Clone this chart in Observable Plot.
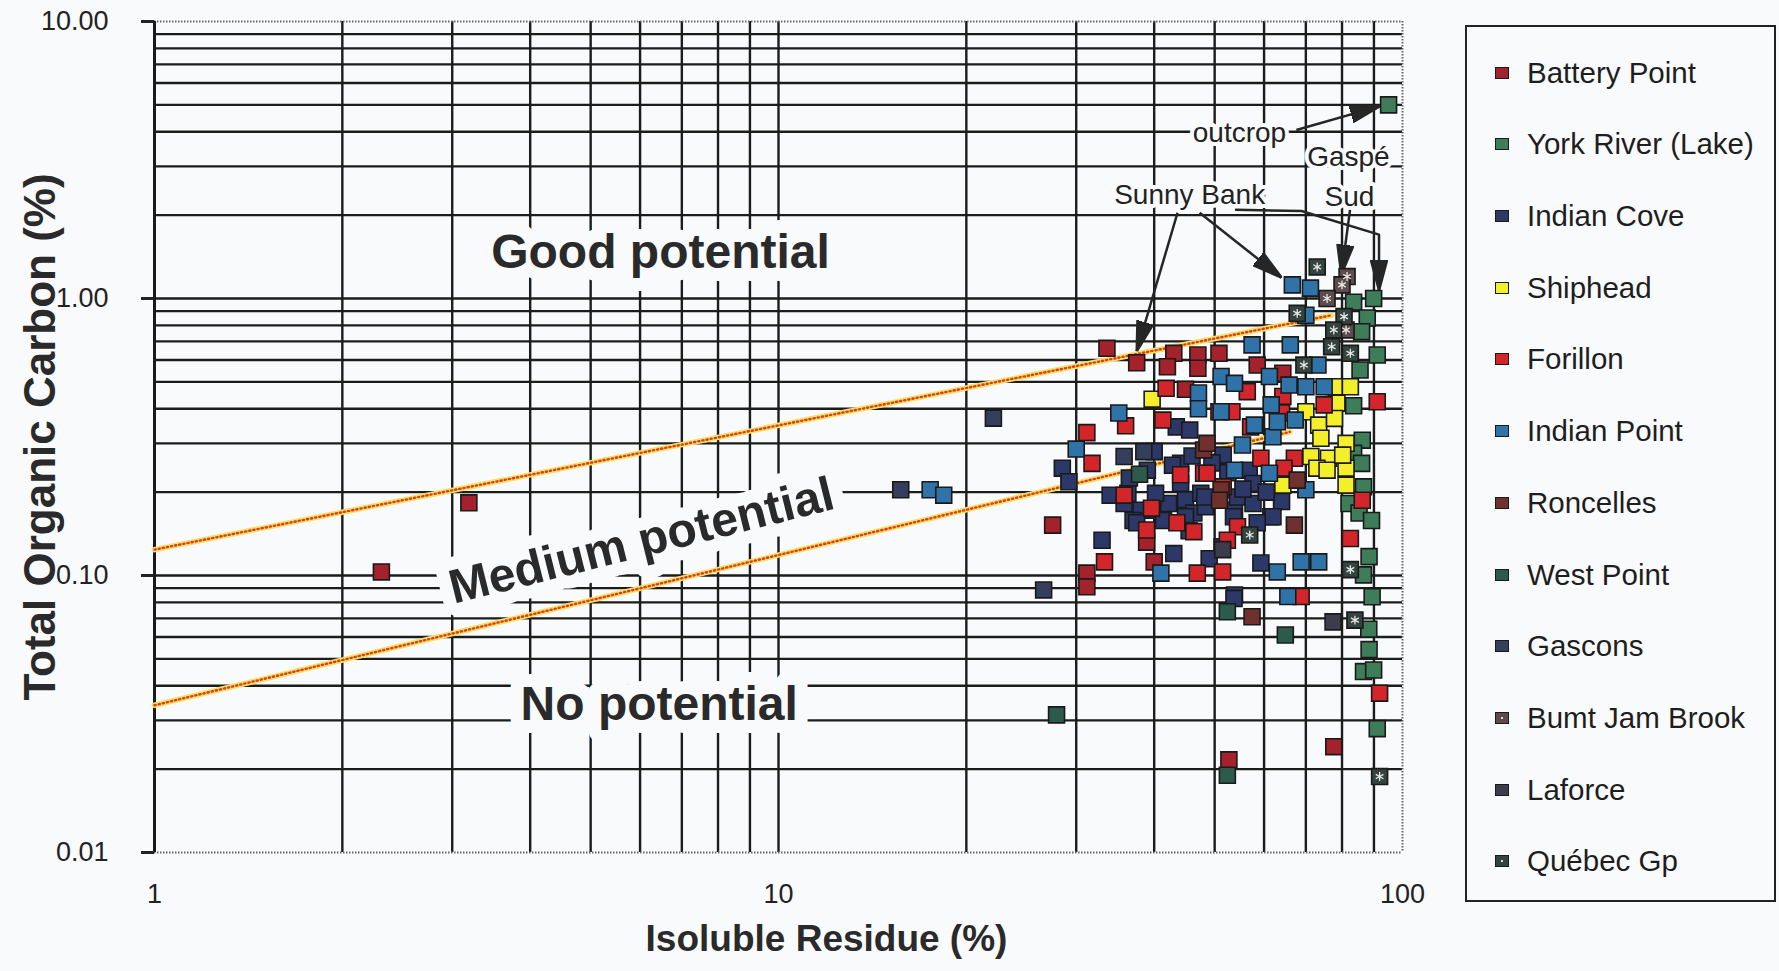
<!DOCTYPE html>
<html>
<head>
<meta charset="utf-8">
<script src="https://cdn.jsdelivr.net/npm/d3@7"></script>
<script src="https://cdn.jsdelivr.net/npm/@observablehq/plot@0.6"></script>
<style>
  html, body { margin: 0; padding: 0; background: #f9fafc; }
  #wrap { position: relative; width: 1779px; height: 971px; overflow: hidden; font-family: "Liberation Sans", Arial, sans-serif; }
  #chart { position: absolute; left: 0; top: 0; }
  #legend { position: absolute; left: 1465px; top: 25px; width: 307px; height: 873px; border: 2px solid #222; background: #f9fafc; }
  .li { position: absolute; left: 0; height: 34px; line-height: 34px; font-size: 29.5px; color: #1e1e1e; white-space: nowrap; }
  .sw { position: absolute; left: 28px; top: 11px; width: 12px; height: 10px; border: 1.5px solid #1a1a1a; }
  .lt { position: absolute; left: 60px; top: 0; }
</style>
</head>
<body>
<div id="wrap"><div id="chart"></div><div id="legend"></div></div>
<script>
// ---- series (Isoluble Residue %, Total Organic Carbon %) ----
const seriesNames = ["Battery Point","York River (Lake)","Indian Cove","Shiphead","Forillon","Indian Point","Roncelles","West Point","Gascons","Bumt Jam Brook","Laforce","Québec Gp"];
const seriesFill = ["#a3222b","#3d7d5a","#2b3868","#f3ef2b","#d3252a","#2f73a8","#70302e","#2c5b4c","#333f5c","#5d4b4d","#3c3c4c","#33443f"];

const batteryPoint = [[2.31,0.103],[3.19,0.183],[33.6,0.661],[37.5,0.586],[43.0,0.634],[42.0,0.567],[47.0,0.625],[47.0,0.56],[50.8,0.634],[27.5,0.152],[31.2,0.102],[31.2,0.091],[77.6,0.0241],[52.7,0.0216],[44.9,0.47],[58.5,0.575],[64.3,0.537],[38.9,0.132],[40.0,0.112]];
const yorkRiver = [[95.0,5.0],[83.5,0.97],[89.9,1.0],[87.8,0.85],[86.0,0.759],[91.1,0.625],[85.5,0.552],[83.5,0.41],[86.2,0.308],[83.5,0.276],[86.0,0.254],[86.6,0.209],[82.1,0.182],[85.2,0.168],[89.2,0.158],[88.4,0.117],[86.6,0.1005],[89.4,0.0838],[88.3,0.064],[88.4,0.054],[86.6,0.045],[89.9,0.0456],[91.1,0.028]];
const indianCove = [[28.5,0.244],[29.2,0.218],[40.0,0.28],[44.1,0.254],[34.0,0.195],[35.8,0.182],[38.1,0.172],[37.0,0.158],[40.4,0.172],[42.2,0.182],[41.4,0.158],[44.9,0.188],[46.3,0.168],[33.0,0.134],[51.6,0.272],[56.8,0.24],[53.8,0.172],[61.5,0.163],[48.3,0.177],[54.4,0.192],[64.0,0.185],[59.3,0.111],[53.8,0.085],[53.7,0.0827],[43.4,0.344],[45.6,0.335],[47.5,0.198],[36.3,0.198],[40.2,0.198],[44.1,0.215],[48.2,0.192],[44.9,0.163],[53.6,0.163],[57.6,0.182],[62.0,0.163],[37.5,0.155],[51.4,0.127],[57.6,0.215],[42.8,0.25],[46.0,0.27],[49.5,0.255],[52.5,0.235],[55.5,0.205],[58.5,0.155],[45.5,0.145],[43.0,0.12],[49.0,0.115],[39.0,0.24],[60.5,0.2],[36.5,0.225]];
const shiphead = [[39.7,0.433],[77.8,0.48],[82.5,0.48],[78.5,0.419],[70.0,0.39],[73.4,0.349],[77.8,0.369],[74.0,0.313],[81.2,0.30],[71.3,0.269],[76.1,0.265],[72.9,0.244],[75.7,0.24],[81.2,0.244],[80.2,0.272],[81.2,0.212],[64.3,0.212]];
const forillon = [[41.8,0.474],[31.2,0.328],[36.0,0.347],[41.3,0.364],[31.8,0.254],[35.8,0.195],[39.6,0.175],[43.5,0.155],[44.1,0.231],[48.0,0.234],[46.3,0.144],[38.9,0.146],[33.3,0.112],[46.9,0.102],[56.4,0.461],[64.3,0.443],[74.9,0.413],[91.1,0.424],[50.8,0.39],[64.0,0.386],[53.3,0.39],[57.1,0.344],[67.1,0.265],[64.6,0.244],[59.3,0.265],[51.6,0.209],[48.6,0.234],[86.2,0.187],[54.4,0.150],[52.4,0.134],[82.5,0.136],[51.5,0.103],[68.8,0.084],[91.9,0.0376]];
const indianPoint = [[17.5,0.204],[18.4,0.195],[47.1,0.456],[35.1,0.386],[47.1,0.40],[30.0,0.286],[41.0,0.102],[66.6,1.12],[71.2,1.09],[70.0,0.87],[57.4,0.68],[66.1,0.68],[73.2,0.575],[51.2,0.523],[53.8,0.494],[61.2,0.523],[65.8,0.487],[70.0,0.48],[74.9,0.48],[61.6,0.413],[67.3,0.364],[51.2,0.39],[62.0,0.317],[55.4,0.296],[57.9,0.349],[63.0,0.359],[61.2,0.234],[53.8,0.24],[70.0,0.204],[63.0,0.103],[68.8,0.112],[73.4,0.112],[65.5,0.084]];
const roncelles = [[48.0,0.284],[48.6,0.30],[67.8,0.221],[51.2,0.204],[67.1,0.152],[50.9,0.187],[57.4,0.071]];
const westPoint = [[37.9,0.232],[52.4,0.074],[64.9,0.061],[52.4,0.019],[27.9,0.0314]];
const gascons = [[15.7,0.204],[22.1,0.37],[26.6,0.0887],[35.8,0.269],[38.5,0.28]];
const burntJamBrook = [[81.5,1.20],[80.0,1.12],[75.7,1.0],[81.2,0.77]];
const laforce = [[77.4,0.068],[51.5,0.124]];
const quebecGp = [[73.0,1.30],[67.8,0.884],[80.6,0.86],[77.6,0.77],[77.0,0.67],[82.5,0.634],[69.5,0.575],[56.9,0.14],[82.5,0.105],[83.9,0.069],[91.9,0.0188]];

const seriesData = [batteryPoint,yorkRiver,indianCove,shiphead,forillon,indianPoint,roncelles,westPoint,gascons,burntJamBrook,laforce,quebecGp];
const patterned = ["Bumt Jam Brook","Québec Gp"];

// ---- axes / grid ----
const xTicks = [1, 10, 100];
const yTicks = [0.01, 0.1, 1, 10];
const xGrid = [2,3,4,5,6,7,8,9,10,20,30,40,50,60,70,80,90];
const yGrid = [0.02,0.03,0.04,0.05,0.06,0.07,0.08,0.09,0.1,0.2,0.3,0.4,0.5,0.6,0.7,0.8,0.9,1,2,3,4,5,6,7,8,9];

// ---- potential boundaries (endpoints) ----
const upperBoundary = [{x:1, y:0.124},{x:77, y:0.87}];
const lowerBoundary = [{x:1, y:0.034},{x:66, y:0.33}];

// ---- zone labels and annotations ----
const zoneLabels = [
  {text:"Good potential", x:6.47, y:1.46, rotate:0},
  {text:"Medium potential", x:6.03, y:0.133, rotate:-14},
  {text:"No potential", x:6.44, y:0.0341, rotate:0}
];
const notes = [
  {text:"outcrop", x:54.8, y:3.96},
  {text:"Gaspé", x:81.9, y:3.24},
  {text:"Sud", x:82.2, y:2.32},
  {text:"Sunny Bank", x:45.6, y:2.36}
];
const arrowLinks = [
  {x1:67.6, y1:4.06, x2:92.0, y2:4.95},
  {x1:43.6, y1:2.04, x2:37.5, y2:0.645},
  {x1:47.3, y1:2.04, x2:64.0, y2:1.19},
  {x1:82.4, y1:2.09, x2:79.8, y2:1.22}
];
const arrowPath = [{x:54.1,y:2.09},{x:68.9,y:2.07},{x:91.7,y:1.70},{x:91.7,y:1.07}];

const points = seriesData.flatMap((arr, i) => arr.map(([x, y]) => ({x, y, s: seriesNames[i]})));
const patternPts = points.filter(d => patterned.includes(d.s));

function solidHead(color) {
  const ns = "http://www.w3.org/2000/svg";
  const m = document.createElementNS(ns, "marker");
  m.setAttribute("viewBox", "-30 -9 30 18");
  m.setAttribute("markerWidth", "30");
  m.setAttribute("markerHeight", "18");
  m.setAttribute("markerUnits", "userSpaceOnUse");
  m.setAttribute("refX", "0");
  m.setAttribute("refY", "0");
  m.setAttribute("orient", "auto");
  const p = document.createElementNS(ns, "path");
  p.setAttribute("d", "M-30,-8L0,0L-30,8Z");
  p.setAttribute("fill", "#262626");
  m.appendChild(p);
  return m;
}

const bg = "#f9fafc";
const gridStroke = "#1b1d1b";

const chart = Plot.plot({
  width: 1450,
  height: 971,
  marginLeft: 154,
  marginRight: 48,
  marginTop: 21,
  marginBottom: 119,
  style: {background: "transparent", fontFamily: "'Liberation Sans', Arial, sans-serif", fontSize: "27px", color: "#222", overflow: "visible"},
  x: {type: "log", domain: [1, 100]},
  y: {type: "log", domain: [0.01, 10]},
  color: {domain: seriesNames, range: seriesFill},
  marks: [
    Plot.ruleY(yGrid, {stroke: gridStroke, strokeWidth: 2.4}),
    Plot.ruleX(xGrid, {stroke: gridStroke, strokeWidth: 2.4}),
    Plot.ruleY([10, 0.01], {stroke: "#666", strokeWidth: 2, strokeDasharray: "1.5,1.5"}),
    Plot.ruleX([100], {stroke: "#666", strokeWidth: 2, strokeDasharray: "1.5,1.5"}),
    Plot.ruleX([1], {stroke: "#1a1a1a", strokeWidth: 3}),
    Plot.line(upperBoundary, {x: "x", y: "y", stroke: "#f6e06a", strokeWidth: 5.5}),
    Plot.line(upperBoundary, {x: "x", y: "y", stroke: "#d8401e", strokeWidth: 2.4, strokeDasharray: "1.2,3"}),
    Plot.line(lowerBoundary, {x: "x", y: "y", stroke: "#f6e06a", strokeWidth: 5.5}),
    Plot.line(lowerBoundary, {x: "x", y: "y", stroke: "#d8401e", strokeWidth: 2.4, strokeDasharray: "1.2,3"}),
    Plot.text(zoneLabels, {x: "x", y: "y", text: "text", rotate: "rotate", fontSize: 48, fontWeight: "bold", fill: "#2a2a2a", stroke: bg, strokeWidth: 26, fontFamily: "'Liberation Sans', Arial, sans-serif"}),
    Plot.text(notes, {x: "x", y: "y", text: "text", fontSize: 28, fill: "#222", stroke: bg, strokeWidth: 8}),
    Plot.link(arrowLinks, {x1: "x1", y1: "y1", x2: "x2", y2: "y2", stroke: "#262626", strokeWidth: 2.5, markerEnd: solidHead}),
    Plot.line(arrowPath, {x: "x", y: "y", stroke: "#262626", strokeWidth: 2.5, markerEnd: solidHead}),
    Plot.dot(points, {x: "x", y: "y", fill: "s", symbol: "square", r: 9, stroke: "#1a1a1a", strokeWidth: 1.6}),
    Plot.dot(patternPts, {x: "x", y: "y", symbol: "asterisk", r: 4.2, stroke: "#e6e6e6", strokeWidth: 1.3}),
    Plot.axisY({ticks: yTicks, tickFormat: d3.format(".2f"), tickSize: 13, tickPadding: 33, strokeWidth: 3, label: null, fontSize: 27}),
    Plot.axisX({ticks: xTicks, tickFormat: d => String(d), tickSize: 0, tickPadding: 31, label: null, fontSize: 27}),
    Plot.text(["Total Organic Carbon (%)"], {frameAnchor: "left", textAnchor: "middle", lineAnchor: "middle", dx: -114, rotate: -90, fontSize: 44, fontWeight: "bold", fill: "#2a2a2a"}),
    Plot.text(["Isoluble Residue (%)"], {frameAnchor: "bottom", dx: 48, dy: 98, fontSize: 37, fontWeight: "bold", fill: "#2a2a2a"})
  ]
});
document.getElementById("chart").appendChild(chart);

// ---- legend (HTML, right of the plot) ----
const legend = document.getElementById("legend");
seriesNames.forEach((name, i) => {
  const item = document.createElement("div");
  item.className = "li";
  item.style.top = (45.6 + i * 71.7 - 17) + "px";
  const sw = document.createElement("div");
  sw.className = "sw";
  sw.style.background = seriesFill[i];
  if (patterned.includes(name)) sw.style.backgroundImage = "radial-gradient(circle, #ddd 1px, transparent 1.5px)";
  const t = document.createElement("div");
  t.className = "lt";
  t.textContent = name;
  item.appendChild(sw);
  item.appendChild(t);
  legend.appendChild(item);
});
</script>
</body>
</html>
